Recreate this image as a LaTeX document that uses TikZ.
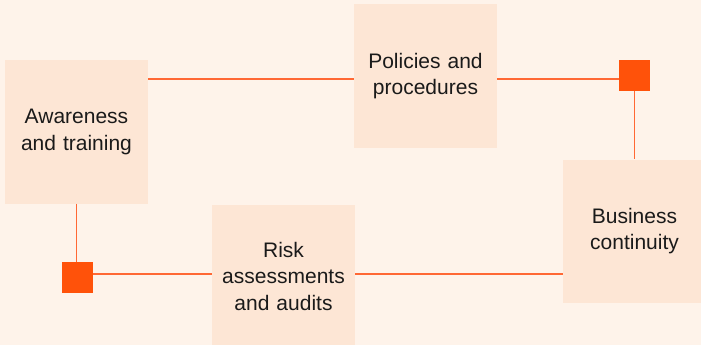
\documentclass[tikz,border=0pt]{standalone}
\usepackage{fontspec}
\setmainfont{Liberation Sans}
\definecolor{nen}{RGB}{254,243,234}
\definecolor{hop}{RGB}{253,230,213}
\definecolor{cam}{RGB}{255,82,10}
\definecolor{duong}{RGB}{255,104,52}
\definecolor{chu}{RGB}{26,26,26}
\begin{document}
\begin{tikzpicture}[x=1pt, y=-1pt, line join=round, line cap=butt,
	font=\fontsize{21}{26.5}\selectfont,
	box/.style={fill=hop, minimum size=143pt, inner sep=0pt, text width=136pt, align=center, text=chu},
	mark box/.style={fill=cam, minimum size=31pt, inner sep=0pt},
	link/.style={draw=duong, line width=1.3pt}]
	%Nền.
	\fill[nen] (0,0) rectangle (701,345);
	\useasboundingbox (0,0) rectangle (701,345);
	%Gán số liệu.
	\def\ytop{79};\def\ybot{274};
	\coordinate (topline) at (0,\ytop);
	\coordinate (botline) at (0,\ybot);
	%Các khối.
	\node[box] (aware) at (76.5,132) {Awareness\\and training};
	\node[box] (policy) at (425.5,76) {Policies and\\procedures};
	\node[box] (business) at (634.5,231) {Business\\continuity};
	\node[box] (risk) at (283.5,276) {Risk\\assessments\\and audits};
	\node[mark box] (sqA) at (634.5,75.5) {};
	\node[mark box] (sqB) at (77.5,277.5) {};
	%Đường nối.
	\draw[link] (aware.east |- topline) -- (policy.west |- topline);
	\draw[link] (policy.east |- topline) -- (sqA.west |- topline);
	\draw[link] (sqA.south) -- (business.north);
	\draw[link] (aware.south) -- (aware.south |- sqB.north);
	\draw[link] (sqB.east |- botline) -- (risk.west |- botline);
	\draw[link] (risk.east |- botline) -- (business.west |- botline);
\end{tikzpicture}
\end{document}
